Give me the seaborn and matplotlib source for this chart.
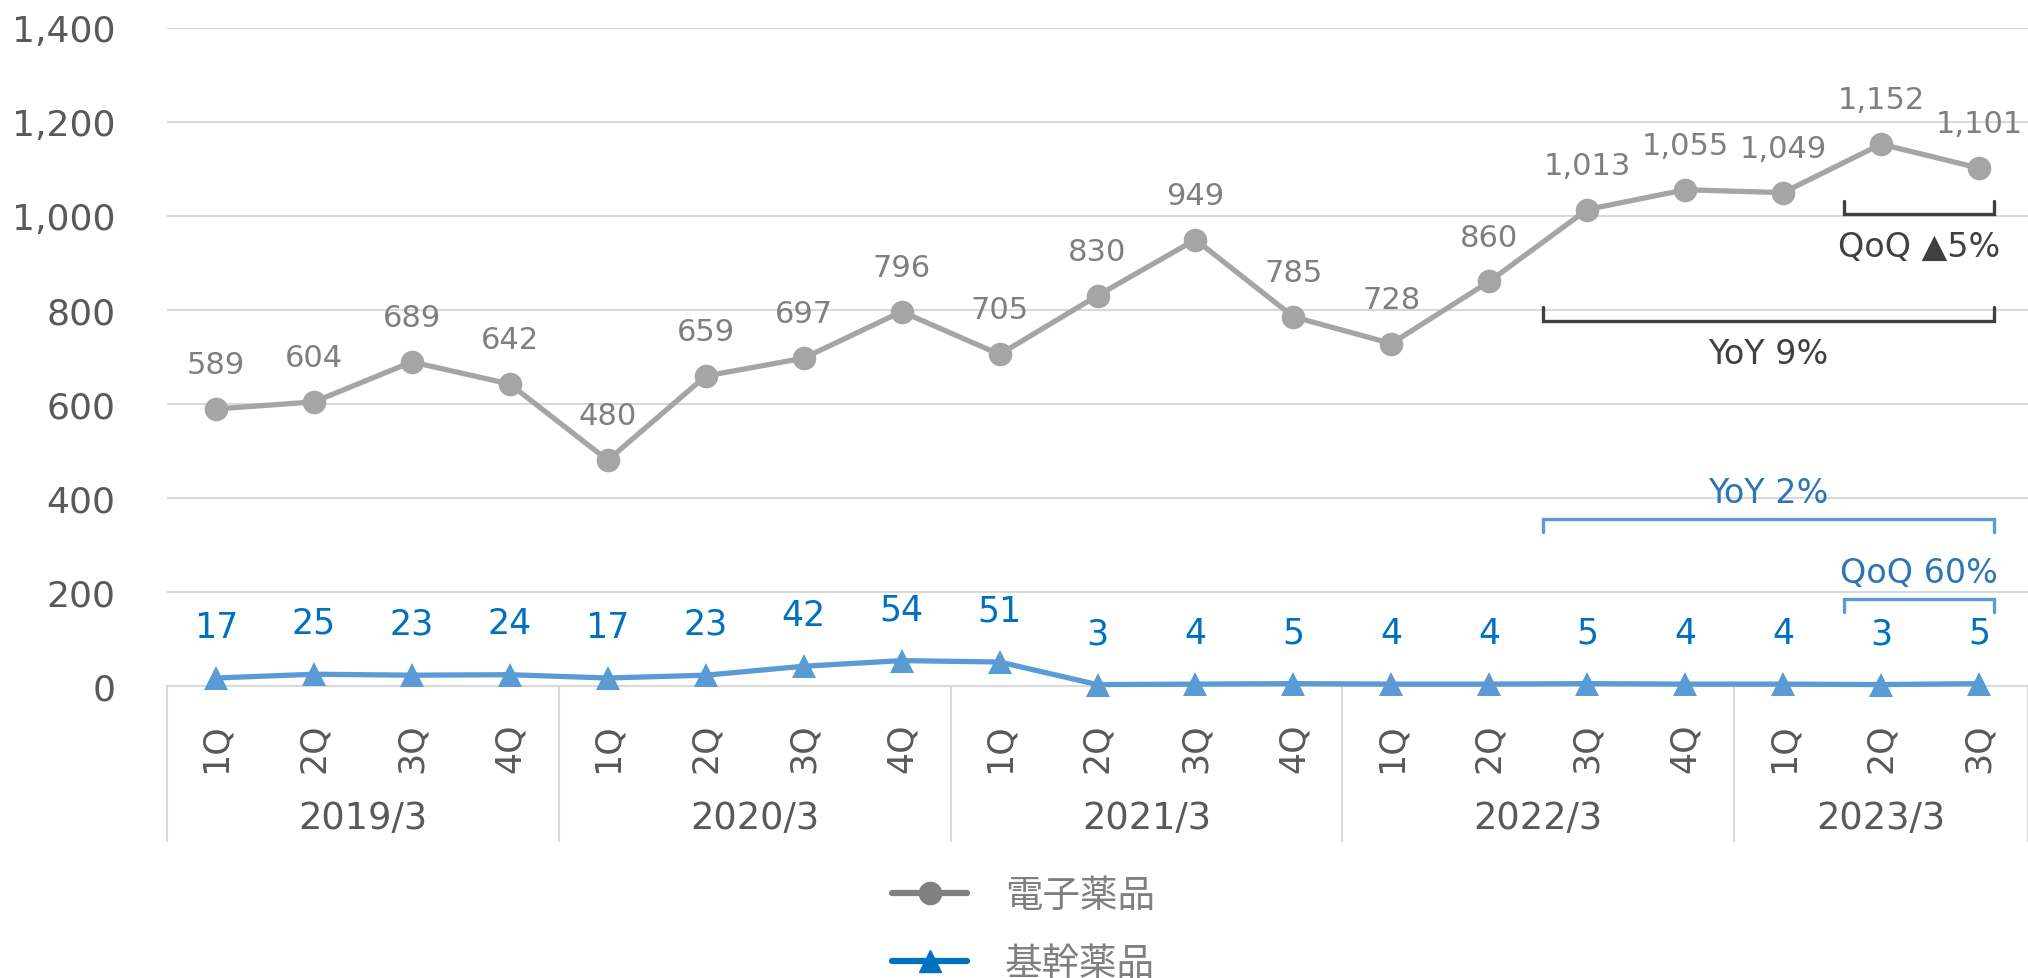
import numpy as np
import pandas as pd
import matplotlib
matplotlib.use("Agg")
from matplotlib import pyplot as plt
from matplotlib.lines import Line2D
import seaborn as sns

# data
quarters = ["1Q", "2Q", "3Q", "4Q"] * 4 + ["1Q", "2Q", "3Q"]
groups = ["2019/3", "2020/3", "2021/3", "2022/3", "2023/3"]
group_sizes = [4, 4, 4, 4, 3]
denshi = [589, 604, 689, 642, 480, 659, 697, 796, 705, 830, 949, 785, 728, 860,
          1013, 1055, 1049, 1152, 1101]
kikan = [17, 25, 23, 24, 17, 23, 42, 54, 51, 3, 4, 5, 4, 4, 5, 4, 4, 3, 5]

sns.set_style("white")
plt.rcParams['font.family'] = ['DejaVu Sans', 'Noto Sans CJK JP']

GRAY_LINE = "#A5A5A5"
GRAY_LBL = "#7F7F7F"
BLUE_LINE = "#5B9BD5"
BLUE_LBL = "#0070C0"
BLUE_TXT = "#2E75B6"
TICK_C = "#595959"
GRID_C = "#D9D9D9"

df = pd.DataFrame({"pos": np.arange(len(denshi)), "denshi": denshi, "kikan": kikan})

fig = plt.figure(figsize=(20.28, 9.79), dpi=100)
ax = fig.add_axes([167 / 2028, 1 - 687 / 979, 1 - 167 / 2028, (687 - 28.5) / 979])

sns.lineplot(data=df, x="pos", y="denshi", ax=ax, color=GRAY_LINE, lw=3.8,
             marker="o", markersize=17, markeredgewidth=0, zorder=3, clip_on=False)
sns.lineplot(data=df, x="pos", y="kikan", ax=ax, color=BLUE_LINE, lw=3.8,
             marker="^", markersize=17, markeredgewidth=0, zorder=3, clip_on=False)

# data labels
for i, v in enumerate(denshi):
    ax.annotate(f"{v:,}", (i, v), xytext=(0, 32), textcoords="offset points",
                ha="center", va="center", fontsize=22, color=GRAY_LBL)
for i, v in enumerate(kikan):
    ax.annotate(f"{v:,}", (i, v), xytext=(0, 37), textcoords="offset points",
                ha="center", va="center", fontsize=25, color=BLUE_LBL)

ax.set_xlim(-0.5, len(denshi) - 0.5)
ax.set_ylim(0, 1400)
ax.set_yticks(range(0, 1401, 200))
ax.set_yticklabels([f"{t:,}" for t in range(0, 1401, 200)])
ax.set_xticks(df["pos"])
ax.set_xticklabels(quarters, rotation=90)
ax.tick_params(axis="y", length=0, pad=37, labelsize=26, labelcolor=TICK_C)
ax.tick_params(axis="x", length=0, pad=26, labelsize=25, labelcolor=TICK_C)
ax.set_xlabel("")
ax.set_ylabel("")
ax.yaxis.grid(True, color=GRID_C, lw=1.5)
ax.set_axisbelow(True)
for s in ["top", "right", "left"]:
    ax.spines[s].set_visible(False)
ax.spines["bottom"].set_color(GRID_C)
ax.spines["bottom"].set_linewidth(1.5)

# multi-level category axis
trans = ax.get_xaxis_transform()
bounds = np.concatenate([[0], np.cumsum(group_sizes)]) - 0.5
for b in bounds:
    ax.plot([b, b], [0, -0.2354], transform=trans, color=GRID_C, lw=1.5, clip_on=False)
for g, lo, hi in zip(groups, bounds[:-1], bounds[1:]):
    ax.text((lo + hi) / 2, -0.199, g, transform=trans, ha="center", va="center",
            fontsize=26.5, color=TICK_C)

# YoY / QoQ brackets
def bracket(x0, x1, y, tick, color, tcolor, label, ty):
    ax.plot([x0, x0, x1, x1], [y + tick, y, y, y + tick], color=color, lw=2.4,
            solid_joinstyle="miter", zorder=4)
    ax.text((x0 + x1) / 2, ty, label, ha="center", va="center", fontsize=24, color=tcolor)

bracket(13.55, 18.15, 776, 30, "#404040", "#404040", "YoY 9%", 706)
bracket(16.62, 18.15, 1003, 28, "#404040", "#404040", "QoQ ▲5%", 935)
bracket(13.55, 18.15, 355, -28, BLUE_LINE, BLUE_TXT, "YoY 2%", 412)
bracket(16.62, 18.15, 185, -28, BLUE_LINE, BLUE_TXT, "QoQ 60%", 242)

handles = [
    Line2D([0], [0], color="#808080", lw=4.5, marker="o", markersize=16),
    Line2D([0], [0], color=BLUE_LBL, lw=4.5, marker="^", markersize=16),
]
fig.legend(handles, ["電子薬品", "基幹薬品"], loc="center left",
           bbox_to_anchor=(0.440, 0.049), frameon=False, fontsize=27,
           handlelength=2.0, handletextpad=1.0, labelspacing=0.85,
           borderpad=0, borderaxespad=0, labelcolor=GRAY_LBL)

fig.savefig("out.png", dpi=100)
